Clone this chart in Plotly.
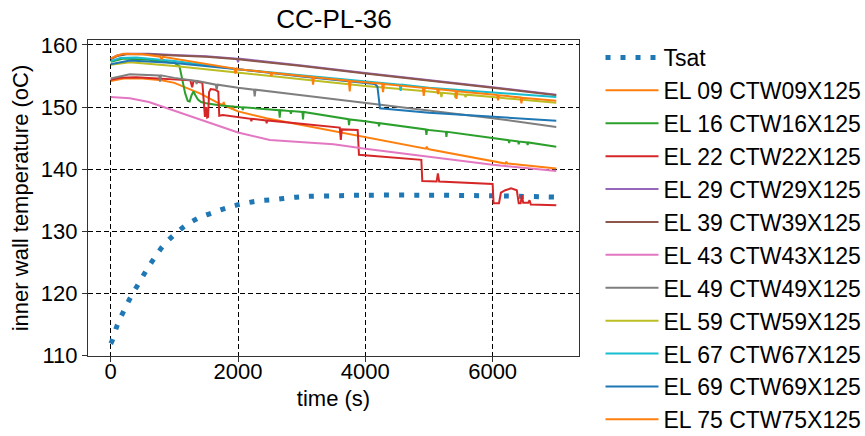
import plotly.graph_objects as go

# ---------------- data ----------------
tsat_t = [0, 20, 100, 193, 309, 429, 555, 681, 828, 1005, 1189, 1398, 1634, 1870, 2105, 2341, 2577, 2828, 3070, 3500, 4000, 5000, 6000, 7000]
tsat_v = [111.9, 112.3, 114.8, 116.9, 119.3, 121.4, 123.6, 125.6, 127.7, 129.5, 131.0, 132.2, 133.1, 133.9, 134.5, 134.9, 135.1, 135.4, 135.6, 135.7, 135.8, 135.8, 135.7, 135.5]

el09_t = [0, 200, 500, 800, 1000, 1100, 1400, 1700, 1760, 1775, 1790, 1900, 1915, 1930, 2000, 2446, 3000, 3600, 4000, 4950, 4965, 4980, 5000, 6000, 6200, 6215, 6230, 7000]
el09_v = [154.2, 154.6, 154.6, 154.3, 153.9, 153.5, 152.2, 150.6, 150.3, 150.8, 150.3, 149.7, 150.2, 149.6, 149.3, 148.2, 147.1, 146.0, 145.2, 143.3, 143.6, 143.3, 143.2, 141.2, 140.9, 141.2, 140.9, 140.1]

el16_t = [0, 200, 600, 1000, 1080, 1110, 1140, 1170, 1210, 1240, 1270, 1300, 1330, 1370, 1420, 1500, 1700, 2000, 2064, 2074, 2084, 2645, 2655, 2665, 2820, 2830, 2840, 3011, 3021, 3031, 3598, 3734, 3744, 3754, 4000, 4205, 4215, 4225, 4950, 4960, 4970, 5000, 5264, 5274, 5284, 6000, 6250, 6260, 6270, 6400, 6410, 6420, 6540, 6550, 6560, 7000]
el16_v = [157.3, 157.8, 157.6, 157.1, 156.6, 155.0, 153.5, 152.2, 151.0, 150.9, 151.9, 152.5, 151.9, 151.2, 150.8, 150.6, 150.3, 150.0, 149.95, 149.5, 149.95, 149.5, 148.3, 149.5, 149.35, 148.9, 149.35, 149.2, 148.0, 149.2, 148.2, 148.05, 147.1, 148.0, 147.7, 147.4, 146.9, 147.4, 146.4, 145.5, 146.35, 146.3, 146.0, 145.2, 146.0, 145.0, 144.65, 144.2, 144.65, 144.45, 144.0, 144.45, 144.3, 143.9, 144.3, 143.6]

el22_t = [0, 150, 400, 800, 1000, 1250, 1280, 1300, 1440, 1465, 1480, 1500, 1515, 1530, 1545, 1570, 1640, 1690, 1705, 1760, 2000, 2200, 2210, 2220, 2440, 2450, 2460, 3000, 3598, 3615, 3630, 3880, 3900, 4880, 4895, 5120, 5140, 5160, 6000, 6015, 6100, 6130, 6200, 6290, 6380, 6410, 6440, 6460, 6480, 6560, 6580, 6600, 7000]
el22_v = [154.4, 154.7, 154.8, 154.6, 154.5, 154.3, 153.2, 154.2, 153.9, 150.5, 148.4, 150.0, 148.3, 148.4, 152.4, 152.9, 152.8, 152.5, 148.6, 148.7, 148.4, 148.1, 147.7, 148.1, 147.85, 147.4, 147.85, 147.3, 146.7, 144.7, 146.4, 146.3, 142.3, 141.5, 138.1, 138.0, 139.3, 138.0, 137.6, 134.5, 134.5, 136.2, 136.6, 136.9, 136.6, 134.5, 134.5, 135.8, 134.6, 134.6, 135.0, 134.3, 134.2]

el29_t = [0, 100, 250, 600, 1000, 1500, 1985, 2000, 2015, 2400, 3000, 4000, 5000, 6000, 7000]
el29_v = [157.8, 158.3, 158.6, 158.6, 158.4, 158.2, 157.8, 157.2, 157.8, 157.4, 156.7, 155.5, 154.4, 153.2, 152.0]

el39_t = [0, 100, 250, 600, 1000, 1500, 2000, 2400, 3000, 4000, 5000, 6000, 7000]
el39_v = [157.7, 158.2, 158.5, 158.5, 158.3, 158.1, 157.7, 157.3, 156.6, 155.4, 154.3, 153.1, 151.9]

el43_t = [0, 300, 600, 800, 1000, 1300, 1600, 2000, 2500, 3000, 3500, 4000, 5000, 6000, 7000]
el43_v = [151.6, 151.4, 150.8, 150.1, 149.4, 148.3, 147.2, 145.9, 144.7, 144.3, 144.0, 143.3, 142.0, 140.7, 139.7]

el49_t = [0, 300, 760, 775, 790, 1000, 1340, 1350, 1360, 1650, 1665, 1680, 2000, 2250, 2262, 2275, 3000, 4000, 5000, 6000, 7000]
el49_v = [154.6, 155.3, 155.1, 154.1, 155.1, 154.7, 154.2, 153.7, 154.2, 153.6, 152.8, 153.6, 153.1, 152.8, 151.7, 152.8, 151.9, 150.7, 149.5, 148.2, 146.8]

el59_t = [0, 300, 1000, 2000, 3000, 4000, 5000, 5180, 5195, 5210, 5400, 5415, 5430, 5560, 5575, 5590, 6000, 7000]
el59_v = [156.8, 157.2, 156.6, 155.5, 154.4, 153.4, 152.5, 152.3, 151.6, 152.3, 152.1, 151.5, 152.1, 152.0, 151.6, 152.0, 151.6, 150.7]

el67_t = [0, 150, 400, 1000, 2000, 3000, 4000, 4540, 4555, 4570, 5000, 6000, 7000]
el67_v = [157.4, 157.9, 158.0, 157.4, 156.1, 155.1, 154.1, 153.6, 152.6, 153.6, 153.1, 152.3, 151.6]

el69_t = [0, 300, 1000, 2000, 3000, 4000, 4150, 4190, 4230, 5000, 6000, 7000]
el69_v = [156.9, 157.5, 157.1, 156.1, 154.9, 153.9, 153.7, 153.3, 149.8, 149.1, 148.4, 147.8]

el75_t = [0, 100, 200, 500, 780, 800, 820, 1000, 1500, 1940, 1960, 1980, 2000, 2505, 2524, 2540, 3000, 3165, 3179, 3195, 3740, 3755, 3770, 4000, 4263, 4278, 4293, 4903, 4918, 4933, 5127, 5142, 5157, 5416, 5431, 5446, 6000, 6070, 6085, 6100, 6437, 6452, 6467, 7000]
el75_v = [157.8, 158.3, 158.6, 158.5, 158.1, 157.7, 158.1, 157.8, 157.0, 156.2, 155.4, 156.2, 156.1, 155.55, 155.0, 155.5, 155.0, 154.85, 153.6, 154.8, 154.25, 152.5, 154.2, 154.0, 153.75, 152.4, 153.7, 153.1, 151.8, 153.1, 152.9, 152.1, 152.85, 152.6, 151.3, 152.55, 152.0, 151.95, 151.1, 151.9, 151.55, 150.6, 151.5, 151.0]

series = [
    ("EL 09 CTW09X125", el09_t, el09_v, "#ff7f0e"),
    ("EL 16 CTW16X125", el16_t, el16_v, "#2ca02c"),
    ("EL 22 CTW22X125", el22_t, el22_v, "#d62728"),
    ("EL 29 CTW29X125", el29_t, el29_v, "#9467bd"),
    ("EL 39 CTW39X125", el39_t, el39_v, "#8c564b"),
    ("EL 43 CTW43X125", el43_t, el43_v, "#e377c2"),
    ("EL 49 CTW49X125", el49_t, el49_v, "#7f7f7f"),
    ("EL 59 CTW59X125", el59_t, el59_v, "#bcbd22"),
    ("EL 67 CTW67X125", el67_t, el67_v, "#17becf"),
    ("EL 69 CTW69X125", el69_t, el69_v, "#1f77b4"),
    ("EL 75 CTW75X125", el75_t, el75_v, "#ff7f0e"),
]

FONT = "Liberation Sans, Arial, sans-serif"

fig = go.Figure()
fig.add_trace(go.Scatter(x=tsat_t, y=tsat_v, mode="lines", name="Tsat",
                         line=dict(color="#1f77b4", width=5, dash="5px,10px", shape="spline")))
for name, t, v, c in series:
    fig.add_trace(go.Scatter(x=t, y=v, mode="lines", name=name,
                             line=dict(color=c, width=2)))

axis_common = dict(
    showline=True, mirror=True, linecolor="#333333", linewidth=1.2,
    ticks="outside", ticklen=5, tickwidth=1, tickcolor="#333333",
    showgrid=True, gridcolor="black", gridwidth=1, griddash="5px,3px",
    zeroline=False, tickfont=dict(size=22, color="black", family=FONT),
)

fig.update_xaxes(range=[-357, 7357], tickvals=[0, 2000, 4000, 6000], ticklabelstandoff=-10,
                 title=dict(text="time (s)", font=dict(size=22, color="black", family=FONT), standoff=8),
                 **axis_common)
fig.update_yaxes(range=[109.9, 160.8], tickvals=[110, 120, 130, 140, 150, 160],
                 title=dict(text="inner wall temperature (oC)", font=dict(size=22, color="black", family=FONT), standoff=6),
                 **axis_common)

fig.update_layout(
    width=865, height=436,
    margin=dict(l=88, r=286, t=40, b=80, autoexpand=False),
    plot_bgcolor="white", paper_bgcolor="white",
    font=dict(family=FONT, color="black"),
    title=dict(text="CC-PL-36", x=334 / 865, xanchor="center", y=1 - 19 / 436, yanchor="middle",
               font=dict(size=26, color="black", family=FONT)),
    legend=dict(x=1.0438, xanchor="left", yref="paper", y=1.0127, yanchor="top", maxheight=430,
                itemwidth=53, font=dict(size=23, color="black", family=FONT),
                bgcolor="rgba(0,0,0,0)", borderwidth=0),
    showlegend=True,
)

fig.write_html("out.html")
